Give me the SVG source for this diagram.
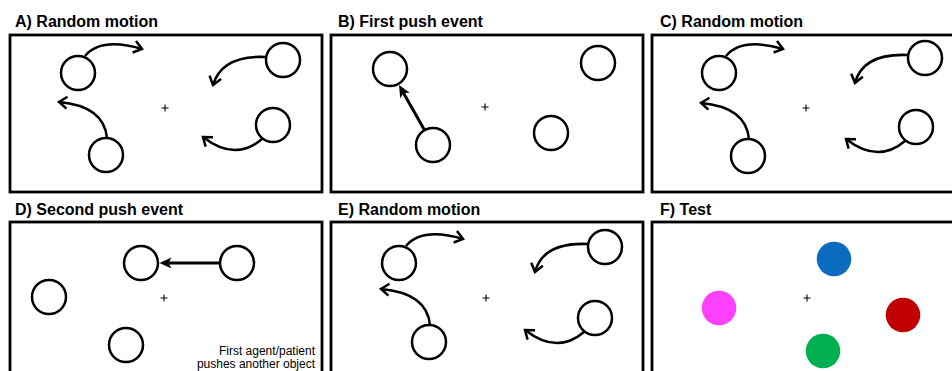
<svg xmlns="http://www.w3.org/2000/svg" width="952" height="371" viewBox="0 0 952 371">
  <style>
    .frame { fill: none; stroke: #000; stroke-width: 2.8; }
    .title { font-family: "Liberation Sans", Arial, sans-serif; font-weight: bold; font-size: 16px; fill: #000; }
    .note { font-family: "Liberation Sans", Arial, sans-serif; font-size: 12px; fill: #000; text-anchor: end; }
    .obj { fill: #fff; stroke: #000; stroke-width: 2.5; }
    .fix { stroke: #000; stroke-width: 1.1; fill: none; }
    .move { fill: none; stroke: #000; stroke-width: 2.5; marker-end: url(#chevron); }
    .push { fill: none; stroke: #000; stroke-width: 3; marker-end: url(#solid); }
  </style>
  <defs>
    <!-- open chevron head for curved motion paths -->
    <marker id="chevron" markerUnits="userSpaceOnUse" markerWidth="14" markerHeight="16" viewBox="-12 -8 14 16" refX="0" refY="0" orient="auto" overflow="visible">
      <path d="M-8,-6 L0,0 L-8,6" fill="none" stroke="#000" stroke-width="2.5" stroke-linejoin="miter"/>
    </marker>
    <!-- filled head for push events; tip sits 9 units past the line end -->
    <marker id="solid" markerUnits="userSpaceOnUse" markerWidth="14" markerHeight="14" viewBox="-4 -7 14 14" refX="0" refY="0" orient="auto" overflow="visible">
      <path d="M9,0 L-3,-5.5 L0,0 L-3,5.5 Z" fill="#000"/>
    </marker>
    <path id="cross" d="M-3.5,0 H3.5 M0,-3.5 V3.5"/>
  </defs>

  <!-- panel titles -->
  <text class="title" x="15" y="27">A) Random motion</text>
  <text class="title" x="338" y="27">B) First push event</text>
  <text class="title" x="660" y="27">C) Random motion</text>
  <text class="title" x="15" y="215">D) Second push event</text>
  <text class="title" x="338" y="215">E) Random motion</text>
  <text class="title" x="660" y="215">F) Test</text>

  <!-- A) random motion -->
  <g id="panelA">
    <rect class="frame" x="10" y="35" width="312" height="157"/>
    <use href="#cross" class="fix" x="165" y="108"/>
    <circle class="obj" cx="78" cy="73" r="17"/>
    <circle class="obj" cx="283" cy="60" r="17"/>
    <circle class="obj" cx="273" cy="125" r="17"/>
    <circle class="obj" cx="106" cy="155" r="17"/>
  </g>

  <!-- B) first push event -->
  <g id="panelB">
    <rect class="frame" x="331" y="35" width="312" height="157"/>
    <use href="#cross" class="fix" x="485" y="107"/>
    <circle class="obj" cx="390" cy="69" r="17"/>
    <circle class="obj" cx="598" cy="63" r="17"/>
    <circle class="obj" cx="433" cy="145" r="17"/>
    <circle class="obj" cx="551" cy="133" r="17"/>
  </g>

  <!-- C) random motion -->
  <g id="panelC">
    <rect class="frame" x="652" y="35" width="312" height="157"/>
    <g transform="translate(641,0)">
      <use href="#cross" class="fix" x="165" y="108"/>
      <circle class="obj" cx="78" cy="73" r="17"/>
      <circle class="obj" cx="284" cy="58" r="17"/>
      <circle class="obj" cx="275" cy="127" r="17"/>
      <circle class="obj" cx="107" cy="156" r="17"/>
    </g>
  </g>

  <!-- D) second push event -->
  <g id="panelD">
    <rect class="frame" x="10" y="222" width="312" height="160"/>
    <use href="#cross" class="fix" x="164" y="298"/>
    <circle class="obj" cx="141" cy="263" r="17"/>
    <circle class="obj" cx="237" cy="263" r="17"/>
    <circle class="obj" cx="49" cy="297" r="17"/>
    <circle class="obj" cx="126" cy="345" r="17"/>
    <text class="note" x="315" y="355">First agent/patient</text>
    <text class="note" x="315" y="368">pushes another object</text>
  </g>

  <!-- E) random motion -->
  <g id="panelE">
    <rect class="frame" x="331" y="222" width="312" height="160"/>
    <g transform="translate(321,190)">
      <use href="#cross" class="fix" x="165" y="108"/>
      <circle class="obj" cx="78" cy="73" r="17"/>
      <circle class="obj" cx="284" cy="57" r="17"/>
      <circle class="obj" cx="274" cy="128" r="17"/>
      <circle class="obj" cx="108" cy="152" r="17"/>
    </g>
  </g>

  <!-- F) test display -->
  <g id="panelF">
    <rect class="frame" x="652" y="222" width="312" height="160"/>
    <use href="#cross" class="fix" x="807" y="298"/>
    <circle cx="834" cy="259" r="17.3" fill="#0B6CBF"/>
    <circle cx="719" cy="308" r="17.3" fill="#FF40FF"/>
    <circle cx="903" cy="315" r="17.3" fill="#C00000"/>
    <circle cx="823" cy="351" r="17.3" fill="#00AF50"/>
  </g>

  <!-- motion and push arrows -->
  <g id="connectors">
    <g id="movesA">
      <path class="move" d="M85,56 Q101,37 142,49"/>
      <path class="move" d="M266,57 Q222,55 213,85"/>
      <path class="move" d="M107,138 Q104,106 59,102"/>
      <path class="move" d="M262,139 Q235,162 203,137"/>
    </g>
    <g id="movesC" transform="translate(641,0)">
      <path class="move" d="M85,56 Q101,37 142,49"/>
      <path class="move" d="M267,55 Q222,53 214,83"/>
      <path class="move" d="M108,139 Q105,107 60,103"/>
      <path class="move" d="M264,141 Q237,164 205,139"/>
    </g>
    <g id="movesE" transform="translate(321,190)">
      <path class="move" d="M85,56 Q101,37 142,49"/>
      <path class="move" d="M267,54 Q222,52 214,82"/>
      <path class="move" d="M109,135 Q106,103 60,99"/>
      <path class="move" d="M263,142 Q236,165 204,140"/>
    </g>
    <path id="pushB" class="push" d="M424.6,130.2 L403.5,92.9"/>
    <path id="pushD" class="push" d="M220,263 L168.5,263"/>
  </g>
</svg>
